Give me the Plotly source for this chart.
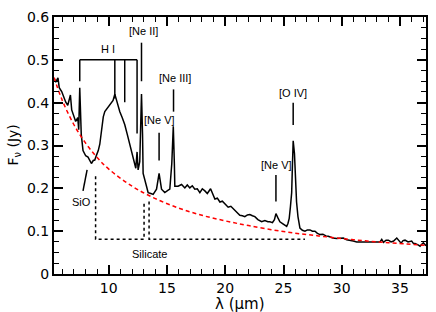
import plotly.graph_objects as go

# ---- data ----
wavelength = [5.32, 5.45, 5.64, 5.75, 5.96, 6.13, 6.31, 6.48, 6.71, 6.82, 6.99, 7.16, 7.34, 7.42, 7.51,
              7.64, 7.79, 8.02, 8.22, 8.37, 8.51, 8.67, 8.80, 8.94, 9.10, 9.23, 9.37, 9.53, 9.66, 9.94,
              10.17, 10.37, 10.52, 10.66, 10.82, 10.95, 11.16, 11.37, 11.59, 11.80, 12.09, 12.23, 12.32,
              12.43, 12.52, 12.66, 12.73, 12.81, 12.90, 12.95, 13.24, 13.38, 13.61, 13.81, 14.10, 14.32,
              14.53, 14.81, 15.07, 15.24, 15.41, 15.54, 15.63, 15.67, 15.95, 16.25, 16.53, 16.74, 16.96,
              17.17, 17.39, 17.60, 17.82, 18.03, 18.25, 18.46, 18.74, 18.93, 19.11, 19.32, 19.54, 19.75,
              19.97, 20.25, 20.48, 20.68, 20.91, 21.11, 21.25, 21.47, 21.68, 21.90, 22.11, 22.33, 22.54,
              22.80, 23.12, 23.40, 23.66, 23.83, 24.05, 24.22, 24.35, 24.52, 24.69, 24.95, 25.27, 25.38,
              25.49, 25.59, 25.70, 25.77, 25.83, 25.94, 26.02, 26.12, 26.24, 26.41, 26.62, 26.84, 27.05,
              27.27, 27.48, 27.70, 27.91, 28.13, 28.38, 28.64, 28.84, 28.99, 29.24, 29.56, 29.85, 30.13,
              30.42, 30.70, 30.99, 31.28, 31.56, 31.85, 32.14, 32.42, 32.71, 33.00, 33.28, 33.43, 33.58,
              33.80, 34.00, 34.23, 34.45, 34.72, 34.91, 35.09, 35.26, 35.43, 35.69, 36.00, 36.16, 36.29,
              36.55, 36.72, 36.89, 37.00, 37.23]
flux = [0.457, 0.448, 0.458, 0.435, 0.426, 0.412, 0.401, 0.394, 0.418, 0.383, 0.371, 0.356, 0.365, 0.337, 0.435,
        0.326, 0.288, 0.276, 0.273, 0.265, 0.258, 0.265, 0.266, 0.277, 0.288, 0.303, 0.341, 0.367, 0.379, 0.390,
        0.396, 0.405, 0.420, 0.405, 0.392, 0.379, 0.365, 0.349, 0.326, 0.303, 0.273, 0.258, 0.247,
        0.285, 0.243, 0.262, 0.326, 0.420, 0.326, 0.235, 0.205, 0.190, 0.188, 0.186, 0.198, 0.235,
        0.198, 0.190, 0.195, 0.198, 0.258, 0.345, 0.258, 0.205, 0.205, 0.209, 0.201, 0.208, 0.201,
        0.206, 0.198, 0.199, 0.190, 0.199, 0.194, 0.188, 0.199, 0.186, 0.175, 0.177, 0.168, 0.170,
        0.164, 0.156, 0.158, 0.152, 0.147, 0.141, 0.137, 0.136, 0.134, 0.138, 0.139, 0.136, 0.134,
        0.127, 0.122, 0.125, 0.122, 0.122, 0.120, 0.127, 0.141, 0.131, 0.122, 0.117, 0.111, 0.118,
        0.130, 0.156, 0.190, 0.258, 0.311, 0.281, 0.213, 0.168, 0.134, 0.107, 0.102, 0.100, 0.103,
        0.103, 0.100, 0.100, 0.095, 0.092, 0.093, 0.089, 0.088, 0.086, 0.084, 0.083, 0.084, 0.084,
        0.080, 0.079, 0.077, 0.075, 0.075, 0.075, 0.076, 0.075, 0.075, 0.075, 0.075, 0.081, 0.074,
        0.079, 0.079, 0.075, 0.077, 0.084, 0.077, 0.072, 0.078, 0.079, 0.075, 0.077, 0.071, 0.071,
        0.068, 0.065, 0.070, 0.073, 0.066]

model_wavelength = [5.3, 6, 7, 8, 9, 10, 12, 14, 16, 18, 20, 22, 25, 28, 31, 34, 37.3]
model_flux = [0.459, 0.406, 0.349, 0.306, 0.272, 0.245, 0.205, 0.176, 0.154, 0.137, 0.124, 0.113,
              0.099, 0.089, 0.080, 0.073, 0.067]

# line labels: (text, text x, text y, line x, line top, line bottom)
line_labels = [
    ("[Ne II]", 12.95, 0.568, 12.81, 0.540, 0.450),
    ("[Ne III]", 15.70, 0.458, 15.56, 0.431, 0.379),
    ("[Ne V]", 14.38, 0.360, 14.32, 0.330, 0.265),
    ("[O IV]", 25.83, 0.423, 25.83, 0.400, 0.348),
    ("[Ne V]", 24.37, 0.254, 24.35, 0.231, 0.169),
]
hi_label = ("H I", 9.91, 0.525)
hi_bar_y = 0.5
hi_lines_x = [7.51, 10.52, 11.37, 12.43]
hi_lines_bottom = [0.450, 0.410, 0.401, 0.328]
sio_label = ("SiO", 7.65, 0.168)
sio_line = ([8.14, 7.79], [0.243, 0.194])
silicate_label = ("Silicate", 13.52, 0.047)
silicate_bracket1 = ([8.87, 8.87, 13.03, 13.03], [0.228, 0.081, 0.081, 0.169])
silicate_bracket2 = ([13.46, 13.46, 26.84], [0.169, 0.081, 0.081])

x_range = [5.3, 37.23]
y_range = [0, 0.6]
x_ticks = [10, 15, 20, 25, 30, 35]
y_ticks = [0, 0.1, 0.2, 0.3, 0.4, 0.5, 0.6]
y_ticktext = ["0", "0.1", "0.2", "0.3", "0.4", "0.5", "0.6"]

fig = go.Figure()
fig.add_trace(go.Scatter(x=wavelength, y=flux, mode="lines",
                         line=dict(color="black", width=1.5), showlegend=False))
fig.add_trace(go.Scatter(x=model_wavelength, y=model_flux, mode="lines", line_shape="spline",
                         line=dict(color="#ff0000", width=1.5, dash="4px,3px"), showlegend=False))
for bx, by in (silicate_bracket1, silicate_bracket2):
    fig.add_trace(go.Scatter(x=bx, y=by, mode="lines", line=dict(color="black", width=1.5, dash="dot"),
                             showlegend=False, hoverinfo="skip"))
# invisible trace to activate mirror axes
fig.add_trace(go.Scatter(x=[x_range[0]], y=[y_range[0]], xaxis="x2", yaxis="y2", mode="markers",
                         marker=dict(opacity=0), showlegend=False, hoverinfo="skip"))

tfont = dict(family="Liberation Sans, Arial", size=11, color="black")
shapes = []
annots = []
for text, tx, ty, lx, ltop, lbot in line_labels:
    annots.append(dict(x=tx, y=ty, text=text, showarrow=False, font=tfont, xref="x", yref="y"))
    shapes.append(dict(type="line", x0=lx, x1=lx, y0=ltop, y1=lbot, xref="x", yref="y",
                       line=dict(color="black", width=1.5)))
annots.append(dict(x=hi_label[1], y=hi_label[2], text=hi_label[0], showarrow=False, font=tfont))
shapes.append(dict(type="line", x0=hi_lines_x[0], x1=hi_lines_x[-1], y0=hi_bar_y, y1=hi_bar_y,
                   xref="x", yref="y", line=dict(color="black", width=1.5)))
for hx, hb in zip(hi_lines_x, hi_lines_bottom):
    shapes.append(dict(type="line", x0=hx, x1=hx, y0=hi_bar_y, y1=hb, xref="x", yref="y",
                       line=dict(color="black", width=1.5)))
annots.append(dict(x=sio_label[1], y=sio_label[2], text=sio_label[0], showarrow=False, font=tfont))
shapes.append(dict(type="line", x0=sio_line[0][0], x1=sio_line[0][1], y0=sio_line[1][0], y1=sio_line[1][1],
                   xref="x", yref="y", line=dict(color="black", width=1.5)))
annots.append(dict(x=silicate_label[1], y=silicate_label[2], text=silicate_label[0], showarrow=False, font=tfont))

# axis titles placed as annotations
title_font = dict(family="DejaVu Sans", size=15, color="black")
annots.append(dict(x=0.5, y=-0.118, xref="paper", yref="paper", text="λ (μm)", showarrow=False,
                   font=title_font, xanchor="center", yanchor="middle"))
annots.append(dict(x=-0.11, y=0.5, xref="paper", yref="paper", text="F<sub>ν</sub> (Jy)", showarrow=False,
                   font=dict(family="DejaVu Sans", size=14, color="black"), textangle=-90,
                   xanchor="center", yanchor="middle"))

axis_font = dict(family="DejaVu Sans", size=14, color="black")
common = dict(ticks="inside", ticklen=9, tickwidth=1.5, tickcolor="black", showgrid=False, zeroline=False,
              showline=True, linewidth=2, linecolor="black")
fig.update_layout(
    width=436, height=312,
    margin=dict(l=54, r=10, t=9, b=38),
    paper_bgcolor="white", plot_bgcolor="white",
    shapes=shapes, annotations=annots,
    xaxis=dict(range=x_range, tickvals=x_ticks, tickfont=axis_font, **common,
               minor=dict(dtick=1, ticks="inside", ticklen=5, tickwidth=1.2, tickcolor="black", showgrid=False)),
    yaxis=dict(range=y_range, tickvals=y_ticks, ticktext=y_ticktext, tickfont=axis_font, **common,
               minor=dict(dtick=0.025, ticks="inside", ticklen=5, tickwidth=1.2, tickcolor="black", showgrid=False)),
    xaxis2=dict(range=x_range, tickvals=x_ticks, overlaying="x", side="top", showticklabels=False, **common,
                minor=dict(dtick=1, ticks="inside", ticklen=5, tickwidth=1.2, tickcolor="black", showgrid=False)),
    yaxis2=dict(range=y_range, tickvals=y_ticks, overlaying="y", side="right", showticklabels=False, **common,
                minor=dict(dtick=0.025, ticks="inside", ticklen=5, tickwidth=1.2, tickcolor="black", showgrid=False)),
)
fig.write_html("out.html", config={"displayModeBar": False},
               post_script="document.body.style.margin='0px';document.body.style.overflow='hidden';")
